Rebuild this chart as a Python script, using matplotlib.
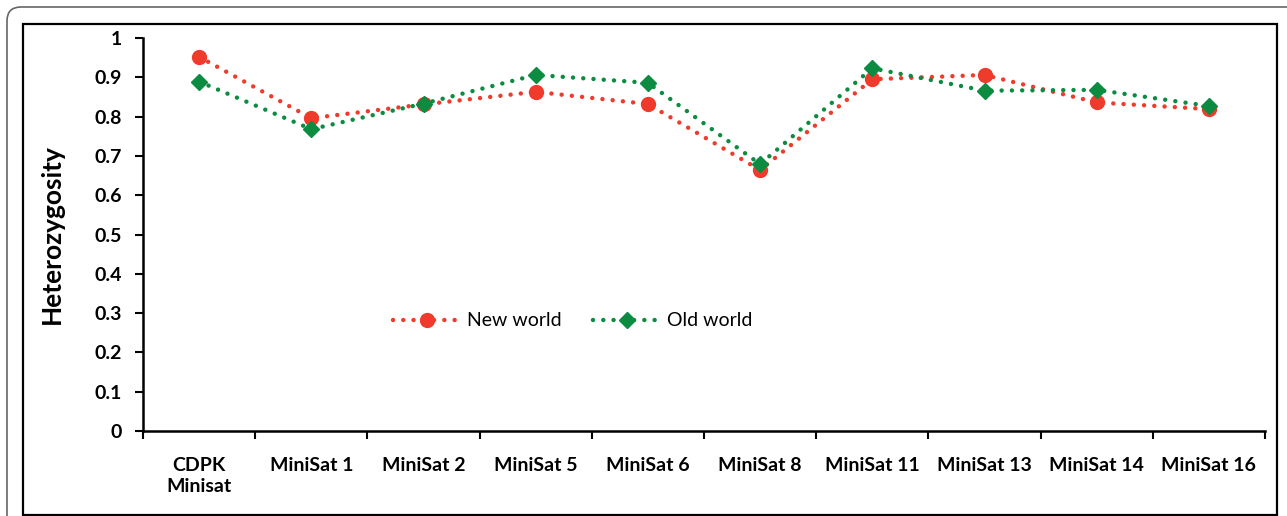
import matplotlib.pyplot as plt
from matplotlib.patches import FancyBboxPatch, Rectangle
from matplotlib.transforms import IdentityTransform
import numpy as np

markers_x = ["CDPK\nMinisat", "MiniSat 1", "MiniSat 2", "MiniSat 5", "MiniSat 6",
             "MiniSat 8", "MiniSat 11", "MiniSat 13", "MiniSat 14", "MiniSat 16"]
new_world = [0.952, 0.796, 0.831, 0.863, 0.832, 0.664, 0.895, 0.906, 0.836, 0.819]
old_world = [0.889, 0.768, 0.833, 0.906, 0.886, 0.679, 0.923, 0.866, 0.868, 0.827]

red = '#EF3B2C'
green = '#0B8C41'

plt.rcParams['font.family'] = ['Lato', 'DejaVu Sans']

fig = plt.figure(figsize=(12.87, 5.16), dpi=100)
ax = fig.add_axes([143/1287, 1 - 431/516, 1122/1287, 393/516])

# frames round the chart (pixel coords, y from bottom)
fig.patches.append(FancyBboxPatch((7, -30), 1320, 516 - 7 + 30,
                                  boxstyle="round,pad=0,rounding_size=14",
                                  transform=IdentityTransform(), fill=False,
                                  edgecolor='#666666', linewidth=1.2))
fig.patches.append(Rectangle((23, 1), 1277 - 23, 516 - 24 - 1,
                             transform=IdentityTransform(), fill=False,
                             edgecolor='black', linewidth=1.6))

x = np.arange(len(markers_x))
dots = (0, (0.01, 2.3))
ax.plot(x, new_world, color=red, linestyle=dots, linewidth=3.2, dash_capstyle='round',
        marker='o', markersize=10, label='New world')
ax.plot(x, old_world, color=green, linestyle=dots, linewidth=3.2, dash_capstyle='round',
        marker='D', markersize=8.5, label='Old world')

ax.set_xlim(-0.5, len(markers_x) - 0.5)
ax.set_ylim(0, 1)
ax.set_yticks(np.arange(0, 1.01, 0.1))
ax.set_yticklabels(['0', '0.1', '0.2', '0.3', '0.4', '0.5', '0.6', '0.7', '0.8', '0.9', '1'],
                   fontweight='bold', fontsize=14)
ax.set_xticks(x)
ax.set_xticklabels(markers_x, fontweight='bold', fontsize=14, linespacing=1.25)
ax.set_xticks(np.arange(-0.5, len(markers_x), 1), minor=True)
ax.tick_params(axis='x', which='major', length=0, pad=19)
ax.tick_params(axis='x', which='minor', length=6, width=1.5, direction='out')
ax.tick_params(axis='y', length=6, width=1.5, direction='out', pad=9)

for side in ['top', 'right']:
    ax.spines[side].set_visible(False)
for side in ['left', 'bottom']:
    ax.spines[side].set_linewidth(1.8)

ax.set_ylabel('Heterozygosity', fontweight='bold', fontsize=19, labelpad=22)

ax.legend(loc='center', bbox_to_anchor=(0.383, 0.28), ncol=2, frameon=False,
          fontsize=14, handlelength=3.5, columnspacing=1.6, handletextpad=0.3)

fig.savefig('out.png', dpi=100)
